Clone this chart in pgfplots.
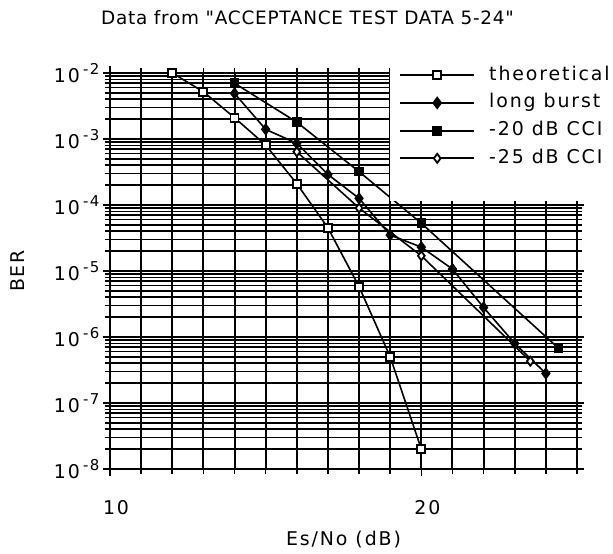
\documentclass[border=0pt]{standalone}
\usepackage{pgfplots}
\pgfplotsset{compat=1.18}
\usepackage{fontspec}
\setmainfont{DejaVu Sans}[LetterSpace=10]
\newfontfamily\titlefont{DejaVu Sans}[LetterSpace=4, Ligatures=TeXOff]

% 10 with a raised exponent, in the text font
\newcommand{\ex}[1]{10\,\raisebox{0.8ex}{\fontsize{15}{15}\selectfont #1}}

\begin{document}
\begin{tikzpicture}[font=\fontsize{19}{22}\selectfont]
\begin{axis}[name=ax, scale only axis, width=467bp, height=396bp,
  ymode=log, xmin=10, xmax=25, ymin=1e-8, ymax=1e-2,
  xtick={10,20}, xticklabels={10,20},
  minor xtick={11,12,13,14,15,16,17,18,19,21,22,23,24,25},
  ytick={1e-8,1e-7,1e-6,1e-5,1e-4,1e-3,1e-2},
  yticklabels={\ex{-8},\ex{-7},\ex{-6},\ex{-5},\ex{-4},\ex{-3},\ex{-2}},
  grid=both,
  grid style={black, line width=1.7bp},
  major y grid style={black, line width=2.8bp},
  major x grid style={black, line width=2bp},
  minor x grid style={black, line width=2bp},
  axis line style={black, line width=2.2bp},
  tick align=outside, major tick length=7bp, minor tick length=5bp,
  tick style={black, line width=1.6bp},
  xticklabel style={yshift=-21bp, xshift=6bp},
  xlabel={Es/No (dB)}, ylabel={BER},
  xlabel style={at={(axis description cs:0.5,-0.179)}, anchor=center},
  ylabel style={at={(axis description cs:-0.197,0.5)}, anchor=center},
  title={\titlefont\fontsize{18.5}{22}\selectfont Data from "ACCEPTANCE TEST DATA 5-24"},
  title style={at={(axis description cs:0.423,1)}, anchor=south, yshift=39bp},
  every axis plot/.append style={black, line width=1.6bp},
  legend style={at={(axis description cs:0.5996,1.1035)}, anchor=north west,
    draw=none, fill=white, inner xsep=9bp, inner ysep=33bp,
    row sep=7.7bp, column sep=13bp,
    nodes={inner sep=1bp, text height=14bp, text depth=4bp},
    cells={anchor=west}},
  legend image code/.code={\draw[mark repeat=2,mark phase=2, line width=2bp]
    plot coordinates {(0bp,0bp)(37bp,0bp)(74bp,0bp)};},
]
\addplot[mark=square*, mark options={fill=white, line width=1.8bp}, mark size=4bp]
  coordinates {(12,1e-2) (13,5.2e-3) (14,2.1e-3) (15,8.1e-4) (16,2.1e-4)
  (17,4.5e-5) (18,5.8e-6) (19,5.0e-7) (20,2.0e-8)};
\addlegendentry{theoretical}
\addplot[mark=diamond*, mark options={fill=black}, mark size=5bp]
  coordinates {(14,4.9e-3) (15,1.4e-3) (16,8.6e-4) (17,2.9e-4) (18,1.26e-4)
  (19,3.5e-5) (20,2.3e-5) (21,1.07e-5) (22,2.8e-6) (23,8.0e-7) (24,2.8e-7)};
\addlegendentry{long burst}
\addplot[mark=square*, mark options={fill=black}, mark size=4bp]
  coordinates {(14,7.0e-3) (16,1.8e-3) (18,3.2e-4) (20,5.3e-5) (24.4,6.8e-7)};
\addlegendentry{-20 dB CCI}
\addplot[mark=diamond*, mark options={fill=white, line width=1.8bp}, mark size=4.5bp]
  coordinates {(16,6.4e-4) (18,9.0e-5) (20,1.7e-5) (23.5,4.3e-7)};
\addlegendentry{-25 dB CCI}
\end{axis}
\pgfresetboundingbox
\path[use as bounding box] ([shift={(-110bp,-85bp)}]ax.south west)
  rectangle ([shift={(503bp,469bp)}]ax.south west);
\end{tikzpicture}
\end{document}
